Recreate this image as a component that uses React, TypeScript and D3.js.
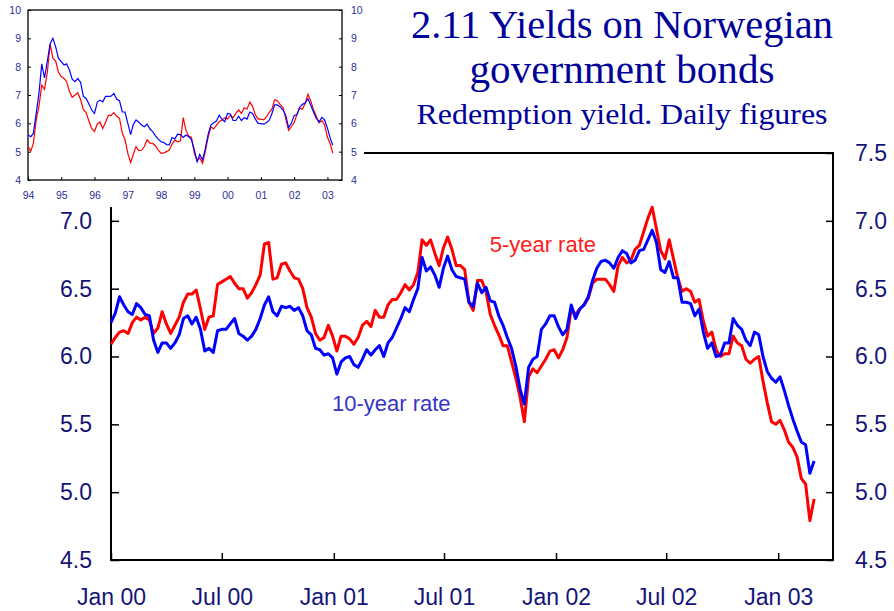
import React, { useEffect, useRef } from 'react';
import * as d3 from 'd3';

// Weekly readings of the daily series, first point 1 Jan 2000
const weeklyStart = new Date(2000, 0, 1);

// 5-year government bond yield (red)
const fiveYearRate = [
  6.09, 6.14, 6.18, 6.19, 6.17, 6.25, 6.29, 6.27, 6.29, 6.27,
  6.17, 6.21, 6.33, 6.24, 6.17, 6.23, 6.29, 6.40, 6.46, 6.46,
  6.49, 6.35, 6.20, 6.29, 6.30, 6.53, 6.55, 6.57, 6.59, 6.54,
  6.50, 6.50, 6.43, 6.47, 6.53, 6.60, 6.83, 6.84, 6.57, 6.58,
  6.68, 6.69, 6.63, 6.58, 6.57, 6.50, 6.36, 6.29, 6.17, 6.12,
  6.14, 6.23, 6.15, 6.04, 6.15, 6.15, 6.13, 6.09, 6.14, 6.23,
  6.26, 6.22, 6.34, 6.29, 6.29, 6.38, 6.42, 6.42, 6.47, 6.53,
  6.49, 6.53, 6.62, 6.86, 6.82, 6.86, 6.76, 6.67, 6.80, 6.88,
  6.79, 6.67, 6.67, 6.64, 6.40, 6.34, 6.56, 6.56, 6.48, 6.31,
  6.23, 6.16, 6.08, 6.08, 5.96, 5.84, 5.70, 5.52, 5.85, 5.91,
  5.88, 5.93, 5.98, 6.04, 6.05, 5.99, 6.05, 6.14, 6.35, 6.31,
  6.35, 6.38, 6.43, 6.54, 6.57, 6.57, 6.57, 6.53, 6.48, 6.67,
  6.73, 6.69, 6.71, 6.79, 6.82, 6.92, 7.02, 7.10, 6.94, 6.78,
  6.72, 6.86, 6.72, 6.58, 6.48, 6.50, 6.48, 6.40, 6.42, 6.26,
  6.15, 6.18, 6.05, 6.00, 6.02, 6.02, 6.15, 6.10, 6.08, 5.98,
  5.95, 5.98, 6.00, 5.82, 5.66, 5.52, 5.50, 5.53, 5.46, 5.37,
  5.33, 5.26, 5.10, 5.06, 4.79, 4.95,
];

// 10-year government bond yield (blue)
const tenYearRate = [
  6.25, 6.32, 6.44, 6.38, 6.33, 6.31, 6.39, 6.36, 6.31, 6.30,
  6.12, 6.03, 6.10, 6.10, 6.06, 6.10, 6.16, 6.28, 6.30, 6.24,
  6.29, 6.20, 6.04, 6.06, 6.03, 6.19, 6.20, 6.20, 6.24, 6.28,
  6.17, 6.15, 6.12, 6.15, 6.20, 6.28, 6.38, 6.44, 6.33, 6.30,
  6.37, 6.36, 6.37, 6.34, 6.36, 6.30, 6.19, 6.16, 6.06, 6.05,
  6.01, 6.02, 5.99, 5.87, 5.96, 5.99, 6.00, 5.94, 5.92, 5.98,
  6.05, 6.01, 6.05, 6.08, 6.00, 6.10, 6.14, 6.21, 6.28, 6.36,
  6.33, 6.42, 6.50, 6.73, 6.63, 6.66, 6.60, 6.51, 6.65, 6.74,
  6.64, 6.59, 6.58, 6.57, 6.40, 6.37, 6.54, 6.47, 6.51, 6.41,
  6.40, 6.30, 6.23, 6.14, 6.06, 5.93, 5.76, 5.65, 5.92, 5.98,
  6.00, 6.20, 6.24, 6.30, 6.30, 6.22, 6.16, 6.20, 6.38, 6.28,
  6.35, 6.38, 6.44, 6.56, 6.65, 6.70, 6.71, 6.69, 6.65, 6.73,
  6.78, 6.76, 6.69, 6.71, 6.78, 6.79, 6.86, 6.93, 6.84, 6.64,
  6.62, 6.70, 6.58, 6.58, 6.40, 6.40, 6.39, 6.30, 6.35, 6.18,
  6.06, 6.10, 6.00, 6.01, 6.10, 6.10, 6.28, 6.23, 6.20, 6.12,
  6.08, 6.18, 6.16, 6.00, 5.89, 5.84, 5.81, 5.85, 5.75, 5.64,
  5.54, 5.45, 5.37, 5.35, 5.14, 5.23,
];

// Monthly readings for the small 1994-2003 panel, first point Jan 1994
const monthlyStart = new Date(1994, 0, 1);

const fiveYearLong = [
  5.18, 5.02, 5.30, 6.12, 6.60, 7.35, 7.20, 7.80, 8.80, 8.30, 8.20, 7.80,
  7.65, 7.58, 7.47, 7.12, 6.92, 7.00, 7.08, 6.84, 6.48, 6.38, 6.08, 5.82,
  5.71, 5.98, 6.05, 5.82, 6.04, 6.28, 6.28, 6.38, 6.25, 6.18, 5.66, 5.42,
  4.94, 4.62, 4.90, 5.18, 5.04, 5.05, 5.18, 5.42, 5.30, 5.29, 5.20, 5.05,
  4.94, 4.96, 5.00, 5.06, 5.26, 5.41, 5.35, 5.38, 6.20, 5.75, 5.55, 5.50,
  4.94, 4.67, 4.78, 4.59, 5.00, 5.50, 5.88, 5.80, 5.94, 6.06, 6.12, 6.20,
  6.15, 6.28, 6.20, 6.35, 6.47, 6.35, 6.55, 6.50, 6.75, 6.60, 6.30, 6.15,
  6.15, 6.12, 6.23, 6.38, 6.50, 6.83, 6.80, 6.66, 6.56, 6.15, 5.75, 5.88,
  6.03, 6.32, 6.54, 6.50, 6.70, 7.03, 6.80, 6.49, 6.25, 6.02, 6.09, 5.95,
  5.51, 5.28, 4.95,
];

const tenYearLong = [
  5.59, 5.53, 5.65, 6.35, 7.05, 8.10, 7.60, 8.20, 8.80, 9.00, 8.70, 8.30,
  8.18, 8.06, 8.10, 7.88, 7.56, 7.47, 7.58, 7.45, 6.95, 6.88, 6.68, 6.47,
  6.35, 6.75, 6.82, 6.76, 6.95, 6.95, 6.96, 7.05, 6.85, 6.80, 6.40, 6.40,
  6.00, 5.60, 5.95, 6.12, 6.04, 5.94, 5.88, 5.97, 5.80, 5.71, 5.56, 5.44,
  5.35, 5.32, 5.25, 5.24, 5.50, 5.45, 5.62, 5.60, 5.50, 5.59, 5.53, 5.42,
  5.06, 4.65, 4.90, 4.71, 5.10, 5.60, 5.94, 6.02, 6.08, 6.29, 6.14, 6.06,
  6.35, 6.33, 6.10, 6.10, 6.25, 6.10, 6.20, 6.15, 6.40, 6.35, 6.15, 6.00,
  5.99, 5.97, 6.02, 6.10, 6.34, 6.65, 6.65, 6.58, 6.47, 6.28, 5.85, 6.00,
  6.28, 6.30, 6.56, 6.67, 6.72, 6.87, 6.65, 6.40, 6.17, 6.05, 6.21, 6.12,
  5.83, 5.47, 5.23,
];

const mainTicks = [4.5, 5.0, 5.5, 6.0, 6.5, 7.0, 7.5];
const insetTicks = [4, 5, 6, 7, 8, 9, 10];
const titleLines = ['2.11 Yields on Norwegian', 'government bonds', 'Redemption yield. Daily figures'];
const seriesLabels = ['5-year rate', '10-year rate'];

const App = () => {
  const chartRef = useRef<SVGSVGElement>(null);

  useEffect(() => {
    const svg = d3.select(chartRef.current);
    svg.selectAll('*').remove();

    const font = "'Liberation Sans', Arial, Helvetica, sans-serif";
    const serif = "'Liberation Serif', 'Times New Roman', serif";
    const navy = '#141478';

    // main panel frame
    const box = { left: 111, right: 833, top: 153, bottom: 560 };

    const xScale = d3.scaleTime()
      .domain([new Date(2000, 0, 1), new Date(2003, 3, 1)])
      .range([box.left, box.right]);
    const yScale = d3.scaleLinear().domain([4.5, 7.5]).range([box.bottom, box.top]);

    const weekly = (values: number[]) =>
      values.map((v, i) => ({ date: d3.timeDay.offset(weeklyStart, 7 * i), value: v }));
    const monthly = (values: number[]) =>
      values.map((v, i) => ({ date: d3.timeMonth.offset(monthlyStart, i), value: v }));

    const styleAxis = (g: any, size: number, color: string) => {
      g.select('.domain').remove();
      g.attr('font-family', font);
      g.selectAll('text').attr('font-size', size).attr('fill', color);
      g.selectAll('line').attr('stroke', '#000');
    };

    // axes, ticks pointing inwards
    svg.append('g')
      .attr('transform', `translate(${box.left},0)`)
      .call(d3.axisLeft(yScale).tickValues(mainTicks).tickFormat(d3.format('.1f'))
        .tickSizeInner(-8).tickSizeOuter(0).tickPadding(19))
      .call((g: any) => styleAxis(g, 23, navy))
      .selectAll('line').attr('stroke-width', 1.5);

    svg.append('g')
      .attr('transform', `translate(${box.right},0)`)
      .call(d3.axisRight(yScale).tickValues(mainTicks).tickFormat(d3.format('.1f'))
        .tickSizeInner(-7).tickSizeOuter(0).tickPadding(22))
      .call((g: any) => styleAxis(g, 23, navy))
      .selectAll('line').attr('stroke-width', 1.5);

    svg.append('g')
      .attr('transform', `translate(0,${box.bottom})`)
      .call(d3.axisBottom(xScale)
        .tickValues(d3.timeMonth.every(6)!.range(new Date(2000, 0, 1), new Date(2003, 1, 1)))
        .tickFormat(d3.timeFormat('%b %y') as any)
        .tickSizeInner(-7).tickSizeOuter(0).tickPadding(29))
      .call((g: any) => styleAxis(g, 23, navy))
      .selectAll('line').attr('stroke-width', 1.5);

    svg.append('rect')
      .attr('x', box.left).attr('y', box.top)
      .attr('width', box.right - box.left).attr('height', box.bottom - box.top)
      .attr('fill', 'none').attr('stroke', '#000').attr('stroke-width', 2);

    const line = d3.line<any>().x(d => xScale(d.date)).y(d => yScale(d.value));

    svg.append('path').datum(weekly(fiveYearRate))
      .attr('d', line).attr('fill', 'none').attr('stroke', '#ff0000')
      .attr('stroke-width', 3).attr('stroke-linejoin', 'round');
    svg.append('path').datum(weekly(tenYearRate))
      .attr('d', line).attr('fill', 'none').attr('stroke', '#0000ff')
      .attr('stroke-width', 3).attr('stroke-linejoin', 'round');

    // series labels, anchored at a date / yield
    svg.append('text')
      .attr('x', xScale(new Date(2001, 8, 14))).attr('y', yScale(6.77))
      .attr('font-family', font).attr('font-size', 22).attr('fill', '#ff1a1a')
      .text(seriesLabels[0]);
    svg.append('text')
      .attr('x', xScale(new Date(2000, 11, 29))).attr('y', yScale(5.6))
      .attr('font-family', font).attr('font-size', 22).attr('fill', '#3535c8')
      .text(seriesLabels[1]);

    // inset panel sits on a white patch over the top-left corner
    svg.append('rect').attr('x', 0).attr('y', 0).attr('width', 364).attr('height', 207).attr('fill', '#fff');

    const inset = { left: 28, right: 342, top: 10, bottom: 180 };
    const ix = d3.scaleTime()
      .domain([new Date(1994, 0, 1), new Date(2003, 5, 10)])
      .range([inset.left, inset.right]);
    const iy = d3.scaleLinear().domain([4, 10]).range([inset.bottom, inset.top]);
    const insetColor = '#2e2e96';

    svg.append('g')
      .attr('transform', `translate(${inset.left},0)`)
      .call(d3.axisLeft(iy).tickValues(insetTicks).tickFormat(d3.format('d'))
        .tickSizeInner(-3).tickSizeOuter(0).tickPadding(7))
      .call((g: any) => styleAxis(g, 10.5, insetColor));
    svg.append('g')
      .attr('transform', `translate(${inset.right},0)`)
      .call(d3.axisRight(iy).tickValues(insetTicks).tickFormat(d3.format('d'))
        .tickSizeInner(-3).tickSizeOuter(0).tickPadding(9))
      .call((g: any) => styleAxis(g, 10.5, insetColor));
    svg.append('g')
      .attr('transform', `translate(0,${inset.bottom})`)
      .call(d3.axisBottom(ix)
        .tickValues(d3.timeYear.range(new Date(1994, 0, 1), new Date(2003, 1, 1)))
        .tickFormat(d3.timeFormat('%y') as any)
        .tickSizeInner(-3).tickSizeOuter(0).tickPadding(12))
      .call((g: any) => styleAxis(g, 10.5, insetColor));

    svg.append('rect')
      .attr('x', inset.left).attr('y', inset.top)
      .attr('width', inset.right - inset.left).attr('height', inset.bottom - inset.top)
      .attr('fill', 'none').attr('stroke', '#000').attr('stroke-width', 1.3);

    const insetLine = d3.line<any>().x(d => ix(d.date)).y(d => iy(d.value));
    svg.append('path').datum(monthly(fiveYearLong))
      .attr('d', insetLine).attr('fill', 'none').attr('stroke', '#ff0000').attr('stroke-width', 1.2);
    svg.append('path').datum(monthly(tenYearLong))
      .attr('d', insetLine).attr('fill', 'none').attr('stroke', '#0000ff').attr('stroke-width', 1.2);

    // title block
    const titleSpec = [
      { y: 38, size: 39, width: 422 },
      { y: 83, size: 39, width: 305 },
      { y: 124, size: 30, width: 411 },
    ];
    titleLines.forEach((t, i) => {
      svg.append('text')
        .attr('x', 622).attr('y', titleSpec[i].y)
        .attr('text-anchor', 'middle')
        .attr('font-family', serif).attr('font-size', titleSpec[i].size)
        .attr('fill', '#00009a')
        .attr('textLength', titleSpec[i].width).attr('lengthAdjust', 'spacingAndGlyphs')
        .text(t);
    });
  }, []);

  return (
    <svg ref={chartRef} width={894} height={611}
      style={{ position: 'absolute', left: 0, top: 0, background: '#fff' }} />
  );
};

export default App;
